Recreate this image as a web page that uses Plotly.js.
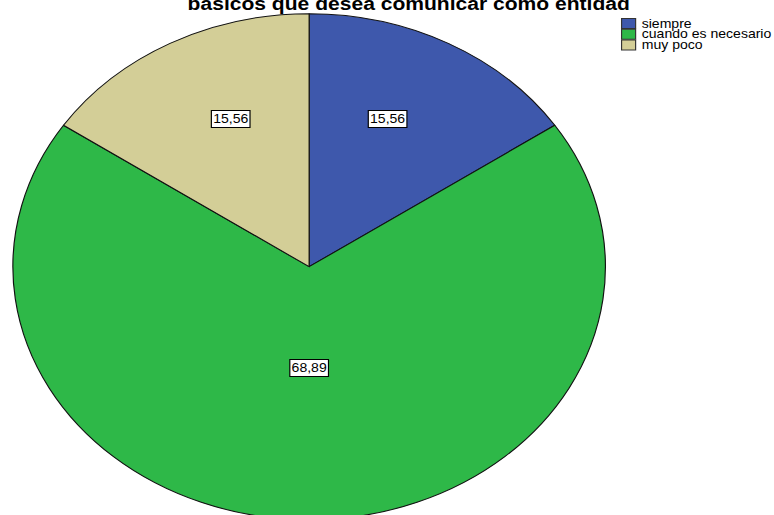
<!DOCTYPE html>
<html>
<head>
<meta charset="utf-8">
<script src="https://cdn.plot.ly/plotly-3.0.1.min.js"></script>
<style>
  html, body { margin: 0; padding: 0; width: 774px; height: 515px; overflow: hidden; background: #fff; }
  #chart { width: 661px; height: 530px; transform: scaleX(1.1710); transform-origin: 0 0; }
</style>
</head>
<body>
<div id="chart"></div>
<script>
// ---- data ----
var categories = ["siempre", "cuando es necesario", "muy poco"];
var percents = [15.56, 68.89, 15.56];
var colors = ["#3E58AC", "#2EB848", "#D3CE97"];
var titleText = "básicos que desea comunicar como entidad";

// ---- geometry (unscaled figure space) ----
var W = 661, H = 530, S = 1.1710;
var CX = 264.0, CY = 266.7, R = 253;   // pie centre (px from left/top) and radius
var FONT = "Arial, 'Liberation Sans', sans-serif";

var domX = [(CX - R) / W, (CX + R) / W];
var domY = [(H - CY - R) / H, (H - CY + R) / H];

function fmt(v) { return v.toFixed(2).replace('.', ','); }

var total = percents.reduce(function (a, b) { return a + b; }, 0);
var annotations = [];
var shapes = [];

// value labels, placed along each slice's mid-angle (in the stretched picture)
var cum = 0;
percents.forEach(function (v) {
  var p = v / total;
  var theta = 2 * Math.PI * (cum + p / 2);
  var alpha = 2 * Math.PI * p;
  var f = Math.max(0.4, 4 * Math.sin(alpha / 2) / (3 * alpha));
  var a = R * S, b = R;
  var sn = Math.sin(theta), cs = Math.cos(theta);
  var rr = 1 / Math.sqrt((sn / a) * (sn / a) + (cs / b) * (cs / b));
  var x = CX + rr * f * sn / S;
  var yTop = CY - rr * f * cs;
  annotations.push({
    xref: "paper", yref: "paper", x: x / W, y: (H - yTop) / H,
    xanchor: "center", yanchor: "middle", showarrow: false,
    text: fmt(v), font: { family: FONT, size: 12, color: "#000" },
    bgcolor: "#fff", bordercolor: "#000", borderwidth: 1, borderpad: 1
  });
  cum += p;
});

// title (second line of a title whose first line is outside the picture)
annotations.push({
  xref: "paper", yref: "paper", x: 348.5 / W, y: (H - 3.5) / H,
  xanchor: "center", yanchor: "middle", showarrow: false,
  text: "<b>" + titleText + "</b>", font: { family: FONT, size: 18, color: "#000" }
});

// compact legend built from categories/colours
var LX = 530.8, LY = 18.5, SW = 12, SH = 10, PITCH = 10.7;
categories.forEach(function (c, i) {
  var y0 = LY + i * PITCH;
  shapes.push({
    type: "rect", xref: "paper", yref: "paper",
    x0: LX / W, x1: (LX + SW) / W, y0: (H - y0 - SH) / H, y1: (H - y0) / H,
    fillcolor: colors[i], line: { color: "#333", width: 1 }
  });
  annotations.push({
    xref: "paper", yref: "paper", x: (LX + SW + 3) / W, y: (H - y0 - SH / 2) / H,
    xanchor: "left", yanchor: "middle", showarrow: false,
    text: c, font: { family: FONT, size: 12, color: "#000" }
  });
});

var trace = {
  type: "pie",
  labels: categories,
  values: percents,
  sort: false,
  direction: "clockwise",
  rotation: 0,
  textinfo: "none",
  hoverinfo: "skip",
  marker: { colors: colors, line: { color: "#111", width: 1 } },
  domain: { x: domX, y: domY },
  showlegend: false
};

var layout = {
  width: W, height: H,
  margin: { l: 0, r: 0, t: 0, b: 0 },
  paper_bgcolor: "#fff",
  showlegend: false,
  annotations: annotations,
  shapes: shapes
};

Plotly.newPlot("chart", [trace], layout, { staticPlot: true, displayModeBar: false });
</script>
</body>
</html>
